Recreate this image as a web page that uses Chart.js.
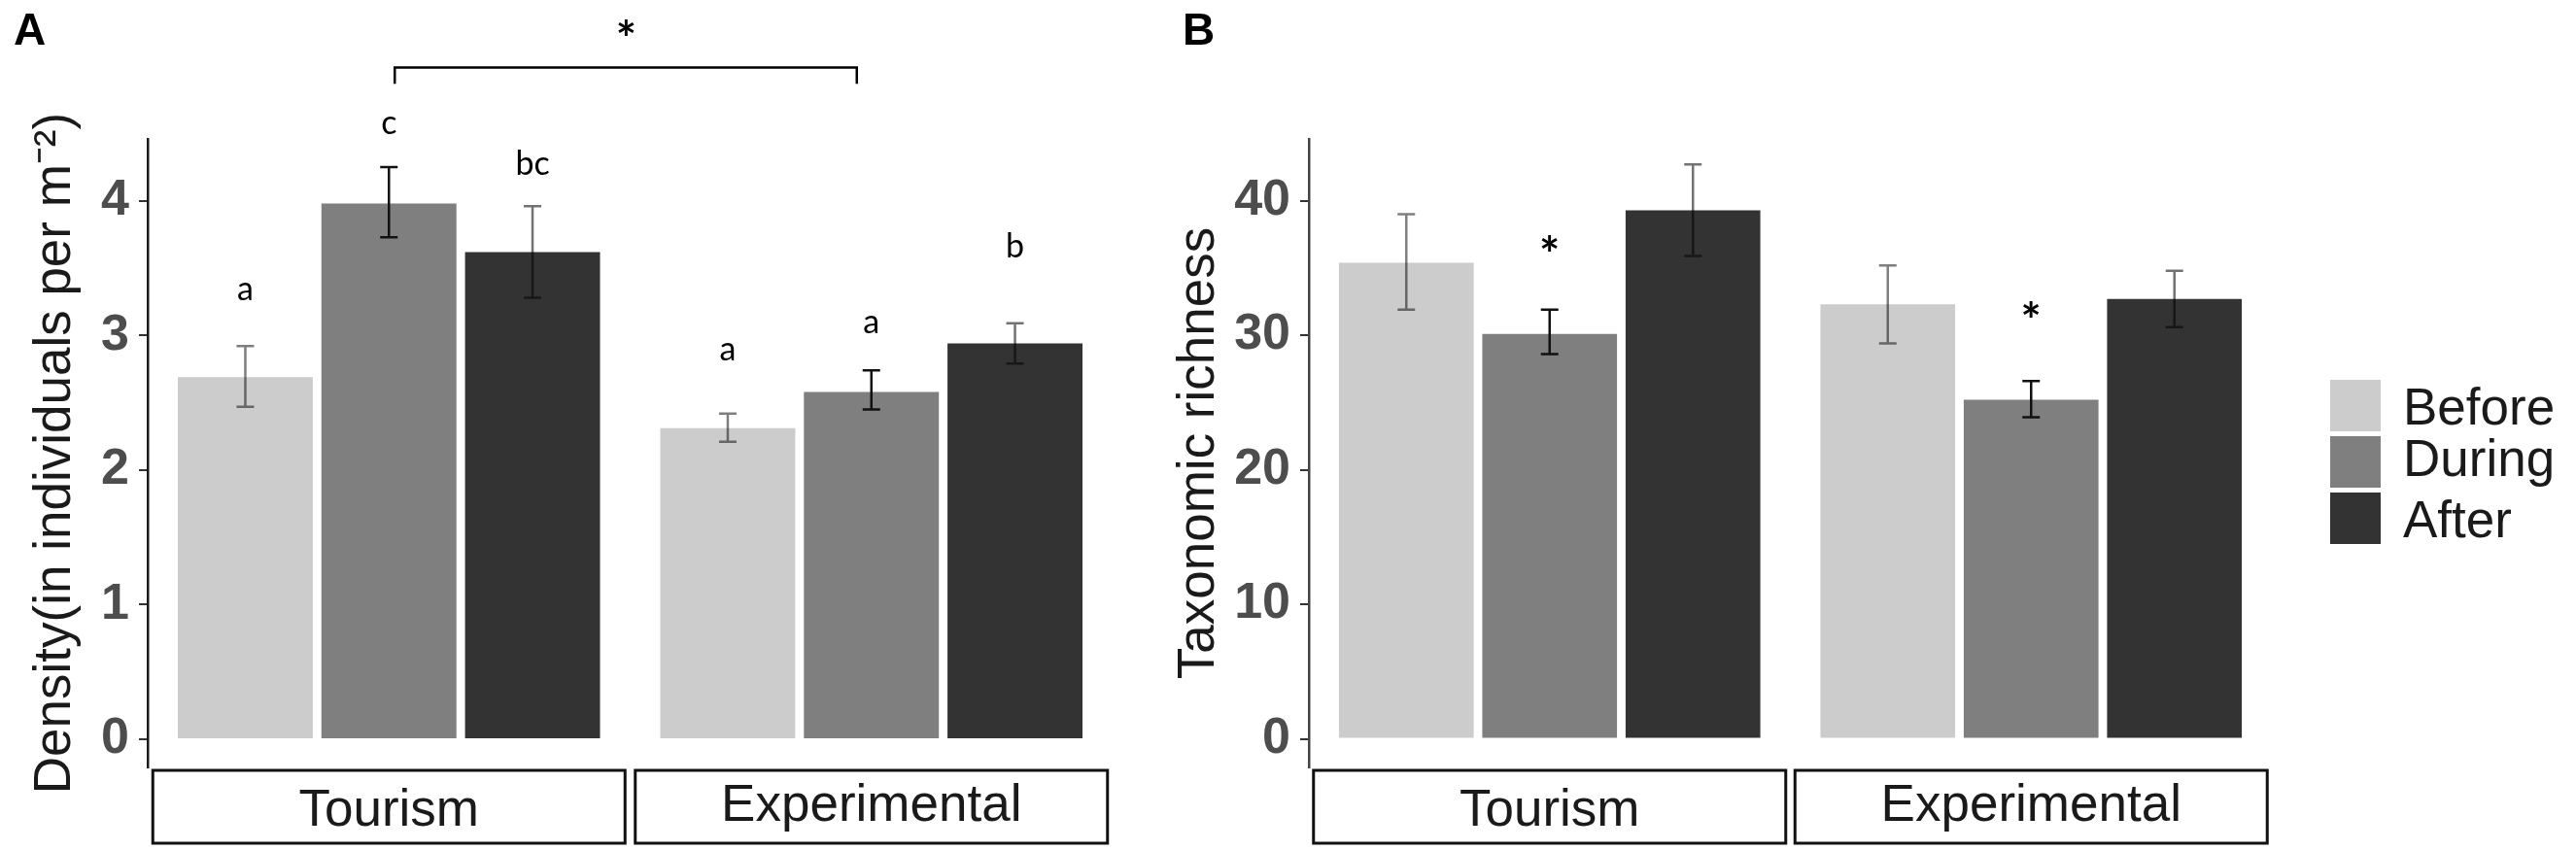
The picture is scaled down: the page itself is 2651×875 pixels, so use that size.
<!DOCTYPE html>
<html>
<head>
<meta charset="utf-8">
<script src="https://cdn.jsdelivr.net/npm/chart.js@4.4.0/dist/chart.umd.min.js"></script>
<style>
  html, body { margin: 0; padding: 0; background: #fff; }
  #wrap { position: relative; width: 2651px; height: 875px; overflow: hidden; }
  canvas { position: absolute; top: 0; }
  #chartA { left: 0; }
  #chartB { left: 1200px; }
</style>
</head>
<body>
<div id="wrap">
  <canvas id="chartA" width="1200" height="875"></canvas>
  <canvas id="chartB" width="1451" height="875"></canvas>
</div>
<script>
const sites = ["Tourism", "Experimental"];
const periods = ["Before", "During", "After"];
const periodColors = ["#cccccc", "#7f7f7f", "#333333"];
const errorColors = ["rgba(0,0,0,0.5)", "#111111", "rgba(0,0,0,0.55)"];

// Panel A - density
const densityBefore = [2.69, 2.31];
const densityDuring = [3.98, 2.58];
const densityAfter = [3.62, 2.94];
const densityLow = [[2.47, 2.21], [3.73, 2.45], [3.28, 2.79]];
const densityHigh = [[2.92, 2.42], [4.25, 2.74], [3.96, 3.09]];
const densityTicks = [0, 1, 2, 3, 4];
const densityLetters = [["a", "a"], ["c", "a"], ["bc", "b"]];
const densityLetterAt = [[3.33, 2.88], [4.56, 3.08], [4.29, 3.67]];

// Panel B - taxonomic richness
const richnessBefore = [35.4, 32.3];
const richnessDuring = [30.1, 25.2];
const richnessAfter = [39.3, 32.7];
const richnessLow = [[31.9, 29.4], [28.6, 23.9], [35.9, 30.6]];
const richnessHigh = [[39.0, 35.2], [31.9, 26.6], [42.7, 34.8]];
const richnessTicks = [0, 10, 20, 30, 40];
const richnessMarks = [["", ""], ["*", "*"], ["", ""]];
const richnessMarkAt = [[0, 0], [36.8, 31.9], [0, 0]];

const SANS = "'Liberation Sans', Arial, sans-serif";
const NOTE = "Lato, 'Open Sans', sans-serif";

function drawCentered(ctx, text, x, y) {
    const m = ctx.measureText(text);
    const h = m.actualBoundingBoxAscent + m.actualBoundingBoxDescent;
    ctx.fillText(text, x, y + m.actualBoundingBoxAscent - h / 2);
}

const errorBars = {
    id: "errorBars",
    afterDatasetsDraw(chart, args, opts) {
        const { ctx } = chart;
        const y = chart.scales.y;
        chart.data.datasets.forEach((ds, i) => {
            chart.getDatasetMeta(i).data.forEach((bar, j) => {
                const top = y.getPixelForValue(opts.high[i][j]);
                const bottom = y.getPixelForValue(opts.low[i][j]);
                ctx.save();
                ctx.strokeStyle = errorColors[i];
                ctx.lineWidth = 2.5;
                ctx.beginPath();
                ctx.moveTo(bar.x, top);
                ctx.lineTo(bar.x, bottom);
                ctx.moveTo(bar.x - 9, top);
                ctx.lineTo(bar.x + 9, top);
                ctx.moveTo(bar.x - 9, bottom);
                ctx.lineTo(bar.x + 9, bottom);
                ctx.stroke();
                ctx.restore();
            });
        });
    },
};

const extras = {
    id: "extras",
    afterDraw(chart, args, opts) {
        const { ctx, chartArea } = chart;
        const x = chart.scales.x;
        const y = chart.scales.y;
        ctx.save();

        // facet strips
        sites.forEach((site, j) => {
            const cx = x.getPixelForValue(j);
            ctx.strokeStyle = "#111";
            ctx.lineWidth = 3;
            ctx.strokeRect(cx - 243, chartArea.bottom + 3, 486, 75);
            ctx.fillStyle = "#1a1a1a";
            ctx.font = "53px " + SANS;
            ctx.textAlign = "center";
            drawCentered(ctx, site, cx, chartArea.bottom + 41);
        });

        // letters / stars over bars
        ctx.fillStyle = "#000";
        ctx.textAlign = "center";
        opts.notes.forEach((row, i) => {
            const meta = chart.getDatasetMeta(i);
            row.forEach((txt, j) => {
                if (!txt) return;
                ctx.font = (txt === "*" ? "bold 50px " : "34px ") + NOTE;
                drawCentered(ctx, txt, meta.data[j].x, y.getPixelForValue(opts.noteAt[i][j]));
            });
        });

        // panel tag
        ctx.font = "bold 46px " + SANS;
        ctx.textAlign = "left";
        ctx.textBaseline = "top";
        ctx.fillText(opts.tag, opts.tagX, 10);
        ctx.textBaseline = "alphabetic";

        // bracket between the two "During" bars
        if (opts.bracket) {
            const dur = chart.getDatasetMeta(1).data;
            const by = y.getPixelForValue(opts.bracket.at);
            const bt = y.getPixelForValue(opts.bracket.end);
            ctx.strokeStyle = "#000";
            ctx.lineWidth = 2.5;
            ctx.beginPath();
            ctx.moveTo(dur[0].x + 6, bt);
            ctx.lineTo(dur[0].x + 6, by);
            ctx.lineTo(dur[1].x - 15, by);
            ctx.lineTo(dur[1].x - 15, bt);
            ctx.stroke();
            ctx.font = "bold 50px " + NOTE;
            ctx.textAlign = "center";
            drawCentered(ctx, "*", (dur[0].x + dur[1].x) / 2 - 4, y.getPixelForValue(opts.bracket.star));
        }

        // legend
        if (opts.legend) {
            chart.data.datasets.forEach((ds, i) => {
                const ky = 391 + i * 58;
                ctx.fillStyle = ds.backgroundColor;
                ctx.fillRect(opts.legend.x, ky, 52, 53);
                ctx.fillStyle = "#1a1a1a";
                ctx.font = "53px " + SANS;
                ctx.textAlign = "left";
                drawCentered(ctx, ds.label, opts.legend.x + 75, ky + 27);
            });
        }
        ctx.restore();
    },
};

function makeChart(id, values, cfg) {
    return new Chart(document.getElementById(id), {
        type: "bar",
        data: {
            labels: sites,
            datasets: periods.map((p, i) => ({
                label: p,
                data: values[i],
                backgroundColor: periodColors[i],
                borderWidth: 0,
                categoryPercentage: 0.893,
                barPercentage: 0.94,
            })),
        },
        options: {
            responsive: false,
            animation: false,
            devicePixelRatio: 1,
            layout: { padding: { top: 143, bottom: 85, left: 0, right: cfg.right } },
            plugins: {
                legend: { display: false },
                tooltip: { enabled: false },
                errorBars: { low: cfg.low, high: cfg.high },
                extras: cfg.extras,
            },
            scales: {
                x: { display: false },
                y: {
                    min: cfg.min,
                    max: cfg.max,
                    afterFit: (scale) => { scale.width = cfg.axisWidth; },
                    afterBuildTicks: (scale) => { scale.ticks = cfg.ticks.map((v) => ({ value: v })); },
                    border: { display: true, color: cfg.axisColor, width: 2.5 },
                    grid: { drawOnChartArea: false, drawTicks: true, tickLength: 9, color: "#333", lineWidth: 2 },
                    ticks: {
                        padding: 10,
                        color: "#4d4d4d",
                        font: { family: SANS, size: 52, weight: "bold" },
                    },
                    title: {
                        display: true,
                        text: cfg.title,
                        color: "#1a1a1a",
                        font: { family: SANS, size: 53 },
                        padding: { top: cfg.titlePad, bottom: 0 },
                    },
                },
            },
        },
        plugins: [errorBars, extras],
    });
}

makeChart("chartA", [densityBefore, densityDuring, densityAfter], {
    min: -0.21, max: 4.46, ticks: densityTicks,
    low: densityLow, high: densityHigh,
    title: "Density(in individuals per m\u207B\u00B2)",
    axisWidth: 152, titlePad: 26, right: 55, axisColor: "#1a1a1a",
    extras: {
        notes: densityLetters, noteAt: densityLetterAt,
        tag: "A", tagX: 14,
        bracket: { at: 4.99, end: 4.87, star: 5.29 },
    },
});

makeChart("chartB", [richnessBefore, richnessDuring, richnessAfter], {
    min: -2.13, max: 44.6, ticks: richnessTicks,
    low: richnessLow, high: richnessHigh,
    title: "Taxonomic richness",
    axisWidth: 147, titlePad: 3, right: 313, axisColor: "#444",
    extras: {
        notes: richnessMarks, noteAt: richnessMarkAt,
        tag: "B", tagX: 17,
        legend: { x: 1198 },
    },
});
</script>
</body>
</html>
